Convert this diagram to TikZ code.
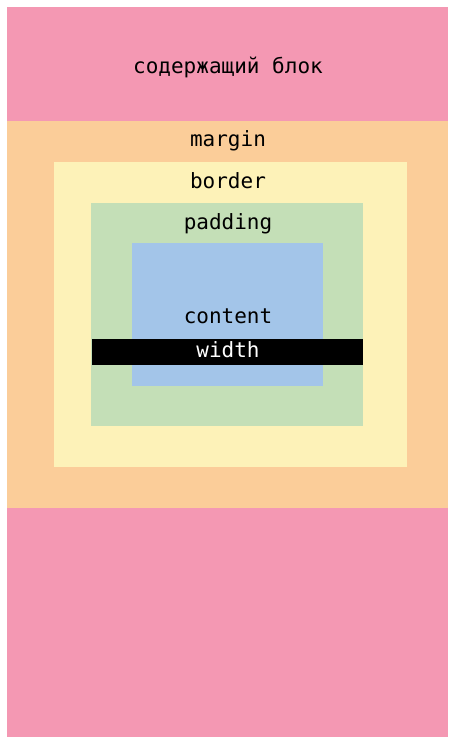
\documentclass[tikz,border=0pt]{standalone}
\usepackage{fontspec}
\setmonofont{DejaVu Sans Mono}
\definecolor{cpink}{HTML}{F498B3}
\definecolor{corange}{HTML}{FBCD99}
\definecolor{cyellow}{HTML}{FDF2B8}
\definecolor{cgreen}{HTML}{C4DFB7}
\definecolor{cblue}{HTML}{A3C5E9}
\begin{document}
\begin{tikzpicture}[x=1pt,y=-1pt,
  lbl/.style={font=\ttfamily\fontsize{21}{25}\selectfont, inner sep=0pt, text=black},
  box/.style={draw=none, inner sep=0pt}]
\useasboundingbox[fill=white] (0,0) rectangle (448,737);
\fill[cpink] (7,7) rectangle (448,737);
\fill[corange] (7,121) rectangle (448,508);
\fill[cyellow] (54,162) rectangle (407,467);
\fill[cgreen] (91,203) rectangle (363,426);
\fill[cblue] (132,243) rectangle (323,386);
\fill[black] (92,339) rectangle (363,365);
\node[lbl] (cb) at (228,67) {содержащий блок};
\node[lbl] (mg) at (228,141) {margin};
\node[lbl] (bd) at (228,181) {border};
\node[lbl] (pd) at (228,224) {padding};
\node[lbl] (ct) at (228,316) {content};
\node[lbl, text=white] (wd) at (228,350) {width};
\end{tikzpicture}
\end{document}
